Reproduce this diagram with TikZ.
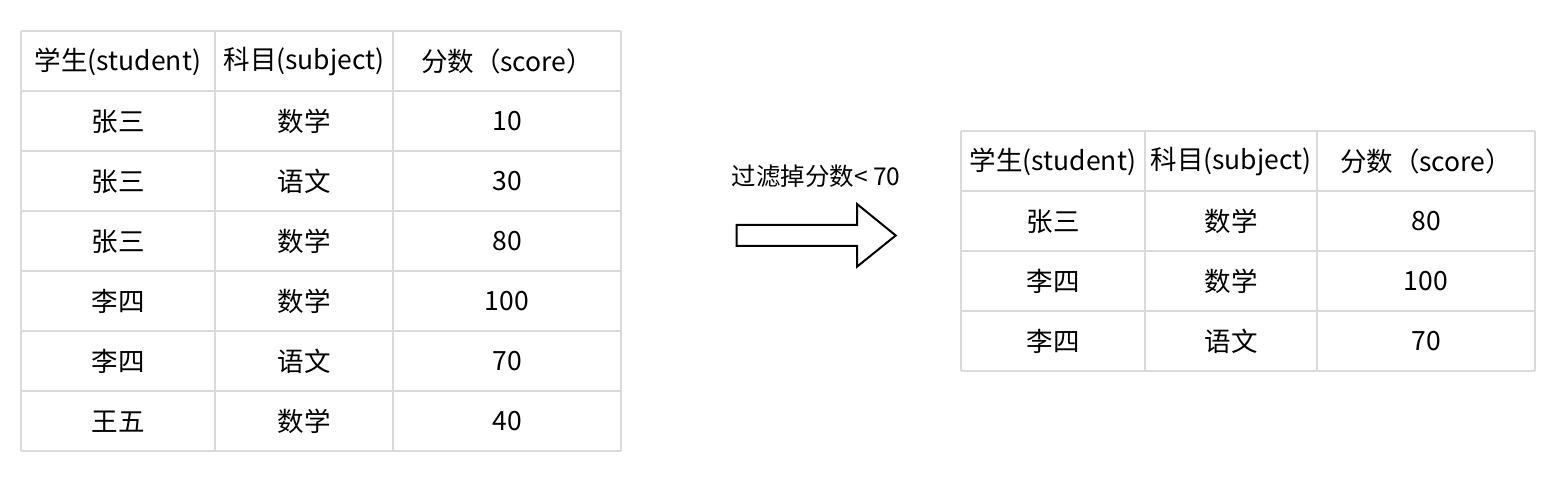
\documentclass[tikz,border=0pt]{standalone}
\usepackage{fontspec}
\setmainfont{Noto Sans CJK SC}
\begin{document}
\begin{tikzpicture}[x=1pt,y=-1pt,
  grid/.style={draw=gridgray,line width=2pt},
  cell/.style={inner sep=0pt,font=\fontsize{26.5}{30}\selectfont,text=black},
  lbl/.style={inner sep=0pt,font=\fontsize{24.5}{28}\selectfont,text=black}]
\definecolor{gridgray}{HTML}{DADADA}
\useasboundingbox[fill=white] (0,0) rectangle (1554,494);
% left table
\foreach \y in {30.7,90.7,150.7,210.7,270.7,330.7,390.7,450.7}
  \draw[grid] (20.7,\y) -- (620.7,\y);
\foreach \x in {20.7,215,393,620.7}
  \draw[grid] (\x,30.7) -- (\x,450.7);
\node[cell] (L00) at (118,61.5) {学生(student)};
\node[cell] (L01) at (304,61.5) {科目(subject)};
\node[cell] (L02) at (507,61.5) {分数（score）};
\foreach \r/\a/\b/\c in {1/张三/数学/10,2/张三/语文/30,3/张三/数学/80,4/李四/数学/100,5/李四/语文/70,6/王五/数学/40}{
  \node[cell] (L\r0) at (118,{61.5+60*\r}) {\a};
  \node[cell] (L\r1) at (304,{61.5+60*\r}) {\b};
  \node[cell] (L\r2) at (507,{61.5+60*\r}) {\c};
}
% right table
\foreach \y in {130.7,190.7,250.7,310.7,370.7}
  \draw[grid] (960.7,\y) -- (1535.3,\y);
\foreach \x in {960.7,1145,1316.7,1535.3}
  \draw[grid] (\x,130.7) -- (\x,370.7);
\node[cell] (R00) at (1053,161.5) {学生(student)};
\node[cell] (R01) at (1231,161.5) {科目(subject)};
\node[cell] (R02) at (1426,161.5) {分数（score）};
\foreach \r/\a/\b/\c in {1/张三/数学/80,2/李四/数学/100,3/李四/语文/70}{
  \node[cell] (R\r0) at (1053,{161.5+60*\r}) {\a};
  \node[cell] (R\r1) at (1231,{161.5+60*\r}) {\b};
  \node[cell] (R\r2) at (1426,{161.5+60*\r}) {\c};
}
% arrow and label
\node[lbl] (filter) at (816,176.5) {过滤掉分数< 70};
\draw[line width=2pt,fill=white,line join=miter]
  (736.7,225) -- (857,225) -- (857,204) -- (895.7,235.5) -- (857,266.7)
  -- (857,246) -- (736.7,246) -- cycle;
\end{tikzpicture}
\end{document}
